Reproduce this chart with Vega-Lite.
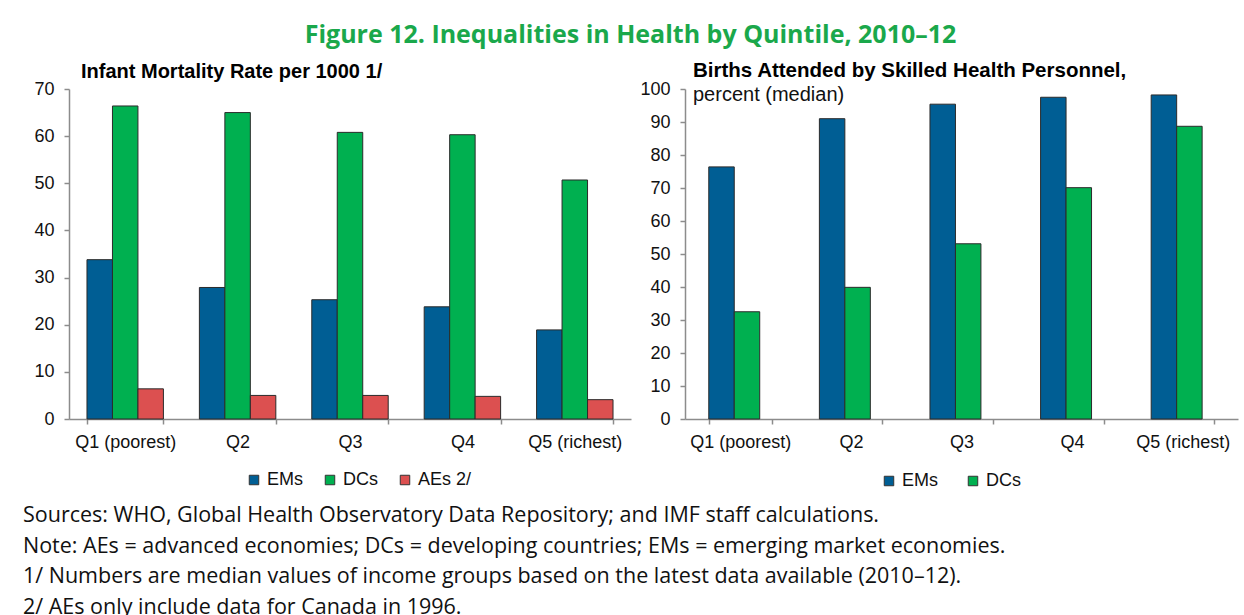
{
  "$schema": "https://vega.github.io/schema/vega-lite/v6.json",
  "background": "white",
  "padding": {"left": 22, "top": 22, "right": 5, "bottom": 0},
  "title": {
    "text": "Figure 12. Inequalities in Health by Quintile, 2010–12",
    "color": "#1aa84b",
    "font": "Open Sans",
    "fontSize": 25,
    "fontWeight": "bold",
    "anchor": "middle",
    "frame": "bounds",
    "offset": 13
  },
  "datasets": {
    "imr": [
      {"quintile": "Q1 (poorest)", "series": "EMs", "value": 33.8},
      {"quintile": "Q1 (poorest)", "series": "DCs", "value": 66.4},
      {"quintile": "Q1 (poorest)", "series": "AEs 2/", "value": 6.4},
      {"quintile": "Q2", "series": "EMs", "value": 27.9},
      {"quintile": "Q2", "series": "DCs", "value": 65.0},
      {"quintile": "Q2", "series": "AEs 2/", "value": 5.0},
      {"quintile": "Q3", "series": "EMs", "value": 25.3},
      {"quintile": "Q3", "series": "DCs", "value": 60.8},
      {"quintile": "Q3", "series": "AEs 2/", "value": 5.0},
      {"quintile": "Q4", "series": "EMs", "value": 23.8},
      {"quintile": "Q4", "series": "DCs", "value": 60.3},
      {"quintile": "Q4", "series": "AEs 2/", "value": 4.8},
      {"quintile": "Q5 (richest)", "series": "EMs", "value": 18.9},
      {"quintile": "Q5 (richest)", "series": "DCs", "value": 50.7},
      {"quintile": "Q5 (richest)", "series": "AEs 2/", "value": 4.1}
    ],
    "births": [
      {"quintile": "Q1 (poorest)", "series": "EMs", "value": 76.4},
      {"quintile": "Q1 (poorest)", "series": "DCs", "value": 32.5},
      {"quintile": "Q2", "series": "EMs", "value": 91.0},
      {"quintile": "Q2", "series": "DCs", "value": 39.9},
      {"quintile": "Q3", "series": "EMs", "value": 95.4},
      {"quintile": "Q3", "series": "DCs", "value": 53.1},
      {"quintile": "Q4", "series": "EMs", "value": 97.5},
      {"quintile": "Q4", "series": "DCs", "value": 70.1},
      {"quintile": "Q5 (richest)", "series": "EMs", "value": 98.2},
      {"quintile": "Q5 (richest)", "series": "DCs", "value": 88.7}
    ]
  },
  "config": {
    "view": {"stroke": null},
    "axis": {
      "labelFont": "Liberation Sans",
      "labelFontSize": 18,
      "labelColor": "#111111",
      "domainColor": "#8c8c8c",
      "tickColor": "#8c8c8c",
      "domainWidth": 1.5,
      "tickWidth": 1.5,
      "tickSize": 5,
      "grid": false,
      "title": null
    },
    "legend": {
      "labelFont": "Liberation Sans",
      "labelFontSize": 18,
      "labelColor": "#111111",
      "symbolType": "square",
      "symbolSize": 90,
      "symbolStrokeColor": "#333333",
      "symbolStrokeWidth": 1,
      "padding": 0,
      "labelOffset": 4
    }
  },
  "vconcat": [
    {
      "title": {
        "text": [
          "Sources: WHO, Global Health Observatory Data Repository; and IMF staff calculations.",
          "Note: AEs = advanced economies; DCs = developing countries; EMs = emerging market economies.",
          "1/ Numbers are median values of income groups based on the latest data available (2010–12).",
          "2/ AEs only include data for Canada in 1996."
        ],
        "orient": "bottom",
        "anchor": "start",
        "frame": "bounds",
        "font": "Open Sans",
        "fontSize": 21.5,
        "fontWeight": "normal",
        "color": "#111111",
        "lineHeight": 30.5,
        "offset": 15,
        "dx": -11
      },
      "spacing": 8,
      "resolve": {"scale": {"color": "independent"}},
      "hconcat": [
        {
          "width": 562,
          "height": 330,
          "title": {
            "text": "Infant Mortality Rate per 1000 1/",
            "anchor": "start",
            "frame": "group",
            "font": "Liberation Sans",
            "fontSize": 20,
            "fontWeight": "bold",
            "color": "#000000",
            "dx": 12,
            "offset": -2
          },
          "data": {"name": "imr"},
          "mark": {"type": "bar", "stroke": "#2b2b2b", "strokeWidth": 1},
          "encoding": {
            "x": {
              "field": "quintile",
              "type": "nominal",
              "sort": ["Q1 (poorest)", "Q2", "Q3", "Q4", "Q5 (richest)"],
              "scale": {"paddingInner": 0.32, "paddingOuter": 0.16},
              "axis": {"labelAngle": 0, "tickBand": "extent", "labelPadding": 9}
            },
            "xOffset": {
              "field": "series",
              "sort": ["EMs", "DCs", "AEs 2/"],
              "scale": {"paddingInner": 0, "paddingOuter": 0}
            },
            "y": {
              "field": "value",
              "type": "quantitative",
              "scale": {"domain": [0, 70], "nice": false},
              "axis": {"values": [0, 10, 20, 30, 40, 50, 60, 70], "labelPadding": 10}
            },
            "color": {
              "field": "series",
              "type": "nominal",
              "scale": {"domain": ["EMs", "DCs", "AEs 2/"], "range": ["#005e94", "#00b050", "#dc5050"]},
              "legend": {"orient": "none", "direction": "horizontal", "legendX": 176, "legendY": 382, "columnPadding": 18, "title": null}
            }
          }
        },
        {
          "width": 553,
          "height": 330,
          "title": {
            "text": "Births Attended by Skilled Health Personnel,",
            "subtitle": "percent (median)",
            "anchor": "start",
            "frame": "group",
            "font": "Liberation Sans",
            "fontSize": 20.5,
            "fontWeight": "bold",
            "color": "#000000",
            "subtitleFont": "Liberation Sans",
            "subtitleFontSize": 20,
            "subtitleColor": "#111111",
            "subtitlePadding": 4,
            "dx": 8,
            "offset": -25
          },
          "data": {"name": "births"},
          "mark": {"type": "bar", "stroke": "#2b2b2b", "strokeWidth": 1},
          "encoding": {
            "x": {
              "field": "quintile",
              "type": "nominal",
              "sort": ["Q1 (poorest)", "Q2", "Q3", "Q4", "Q5 (richest)"],
              "scale": {"paddingInner": 0.43, "paddingOuter": 0.215},
              "axis": {"labelAngle": 0, "tickBand": "extent", "labelPadding": 9}
            },
            "xOffset": {
              "field": "series",
              "sort": ["EMs", "DCs"],
              "scale": {"paddingInner": 0, "paddingOuter": 0}
            },
            "y": {
              "field": "value",
              "type": "quantitative",
              "scale": {"domain": [0, 100], "nice": false},
              "axis": {"values": [0, 10, 20, 30, 40, 50, 60, 70, 80, 90, 100], "labelPadding": 10}
            },
            "color": {
              "field": "series",
              "type": "nominal",
              "scale": {"domain": ["EMs", "DCs"], "range": ["#005e94", "#00b050"]},
              "legend": {"orient": "none", "direction": "horizontal", "legendX": 195, "legendY": 383, "columnPadding": 26, "title": null}
            }
          }
        }
      ]
    }
  ]
}
